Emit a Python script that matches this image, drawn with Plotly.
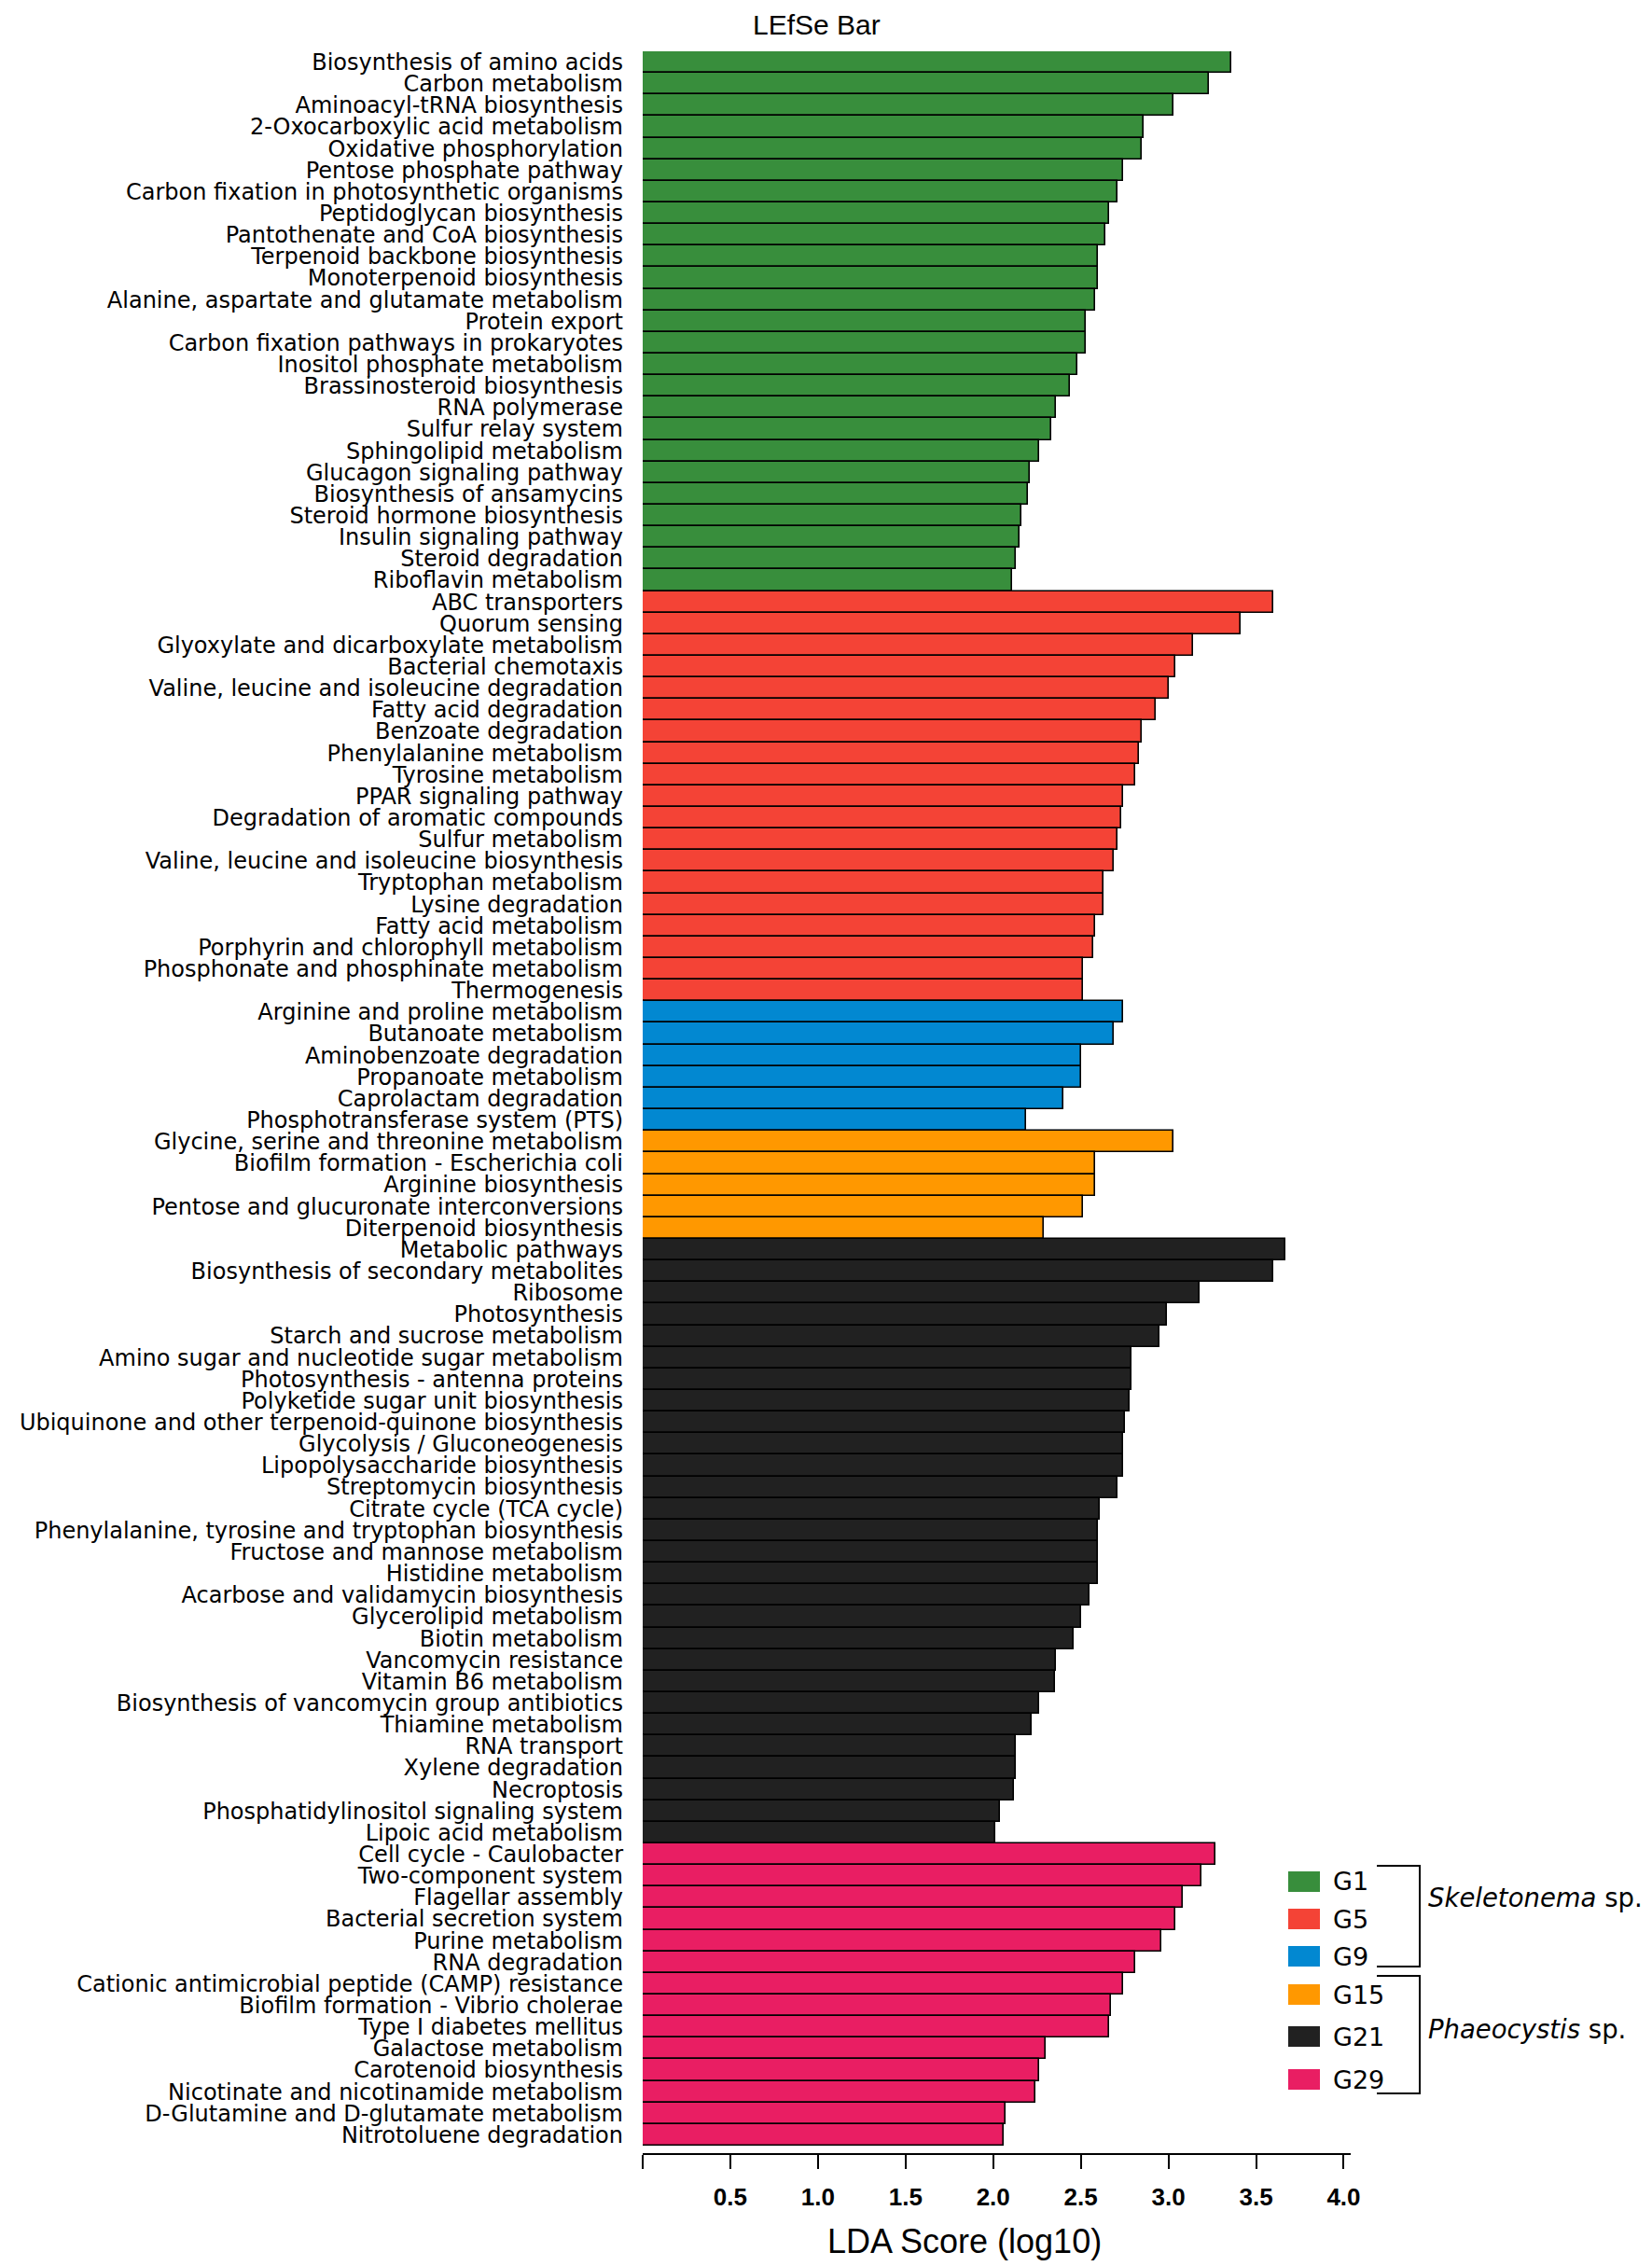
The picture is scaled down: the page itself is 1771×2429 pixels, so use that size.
import plotly.graph_objects as go

# pathways and LDA scores per group, top to bottom as in the figure
g1_pathways = [
    "Biosynthesis of amino acids", "Carbon metabolism", "Aminoacyl-tRNA biosynthesis",
    "2-Oxocarboxylic acid metabolism", "Oxidative phosphorylation", "Pentose phosphate pathway",
    "Carbon fixation in photosynthetic organisms", "Peptidoglycan biosynthesis",
    "Pantothenate and CoA biosynthesis", "Terpenoid backbone biosynthesis",
    "Monoterpenoid biosynthesis", "Alanine, aspartate and glutamate metabolism",
    "Protein export", "Carbon fixation pathways in prokaryotes", "Inositol phosphate metabolism",
    "Brassinosteroid biosynthesis", "RNA polymerase", "Sulfur relay system",
    "Sphingolipid metabolism", "Glucagon signaling pathway", "Biosynthesis of ansamycins",
    "Steroid hormone biosynthesis", "Insulin signaling pathway", "Steroid degradation",
    "Riboflavin metabolism",
]
g1_lda = [3.36, 3.23, 3.03, 2.86, 2.85, 2.74, 2.71, 2.66, 2.64, 2.60, 2.60, 2.58, 2.53,
          2.53, 2.48, 2.44, 2.36, 2.33, 2.26, 2.21, 2.20, 2.16, 2.15, 2.13, 2.11]

g5_pathways = [
    "ABC transporters", "Quorum sensing", "Glyoxylate and dicarboxylate metabolism",
    "Bacterial chemotaxis", "Valine, leucine and isoleucine degradation", "Fatty acid degradation",
    "Benzoate degradation", "Phenylalanine metabolism", "Tyrosine metabolism",
    "PPAR signaling pathway", "Degradation of aromatic compounds", "Sulfur metabolism",
    "Valine, leucine and isoleucine biosynthesis", "Tryptophan metabolism", "Lysine degradation",
    "Fatty acid metabolism", "Porphyrin and chlorophyll metabolism",
    "Phosphonate and phosphinate metabolism", "Thermogenesis",
]
g5_lda = [3.60, 3.41, 3.14, 3.04, 3.00, 2.93, 2.85, 2.83, 2.81, 2.74, 2.73, 2.71, 2.69,
          2.63, 2.63, 2.58, 2.57, 2.51, 2.51]

g9_pathways = [
    "Arginine and proline metabolism", "Butanoate metabolism", "Aminobenzoate degradation",
    "Propanoate metabolism", "Caprolactam degradation", "Phosphotransferase system (PTS)",
]
g9_lda = [2.74, 2.69, 2.50, 2.50, 2.40, 2.19]

g15_pathways = [
    "Glycine, serine and threonine metabolism", "Biofilm formation - Escherichia coli",
    "Arginine biosynthesis", "Pentose and glucuronate interconversions",
    "Diterpenoid biosynthesis",
]
g15_lda = [3.03, 2.58, 2.58, 2.51, 2.29]

g21_pathways = [
    "Metabolic pathways", "Biosynthesis of secondary metabolites", "Ribosome", "Photosynthesis",
    "Starch and sucrose metabolism", "Amino sugar and nucleotide sugar metabolism",
    "Photosynthesis - antenna proteins", "Polyketide sugar unit biosynthesis",
    "Ubiquinone and other terpenoid-quinone biosynthesis", "Glycolysis / Gluconeogenesis",
    "Lipopolysaccharide biosynthesis", "Streptomycin biosynthesis", "Citrate cycle (TCA cycle)",
    "Phenylalanine, tyrosine and tryptophan biosynthesis", "Fructose and mannose metabolism",
    "Histidine metabolism", "Acarbose and validamycin biosynthesis", "Glycerolipid metabolism",
    "Biotin metabolism", "Vancomycin resistance", "Vitamin B6 metabolism",
    "Biosynthesis of vancomycin group antibiotics", "Thiamine metabolism", "RNA transport",
    "Xylene degradation", "Necroptosis", "Phosphatidylinositol signaling system",
    "Lipoic acid metabolism",
]
g21_lda = [3.67, 3.60, 3.18, 2.99, 2.95, 2.79, 2.79, 2.78, 2.75, 2.74, 2.74, 2.71, 2.61,
           2.60, 2.60, 2.60, 2.55, 2.50, 2.46, 2.36, 2.35, 2.26, 2.22, 2.13, 2.13, 2.12,
           2.04, 2.01]

g29_pathways = [
    "Cell cycle - Caulobacter", "Two-component system", "Flagellar assembly",
    "Bacterial secretion system", "Purine metabolism", "RNA degradation",
    "Cationic antimicrobial peptide (CAMP) resistance", "Biofilm formation - Vibrio cholerae",
    "Type I diabetes mellitus", "Galactose metabolism", "Carotenoid biosynthesis",
    "Nicotinate and nicotinamide metabolism", "D-Glutamine and D-glutamate metabolism",
    "Nitrotoluene degradation",
]
g29_lda = [3.27, 3.19, 3.08, 3.04, 2.96, 2.81, 2.74, 2.67, 2.66, 2.30, 2.26, 2.24, 2.07, 2.06]

groups = ["G1", "G5", "G9", "G15", "G21", "G29"]
group_pathways = [g1_pathways, g5_pathways, g9_pathways, g15_pathways, g21_pathways, g29_pathways]
group_lda = [g1_lda, g5_lda, g9_lda, g15_lda, g21_lda, g29_lda]
group_colors = ["#388E3C", "#F44336", "#0288D1", "#FF9800", "#212121", "#E91E63"]

x_ticks = [0, 0.5, 1.0, 1.5, 2.0, 2.5, 3.0, 3.5, 4.0]
x_ticktext = ["", "0.5", "1.0", "1.5", "2.0", "2.5", "3.0", "3.5", "4.0"]

pathways, lda, bar_colors = [], [], []
for names, vals, col in zip(group_pathways, group_lda, group_colors):
    pathways += names
    lda += vals
    bar_colors += [col] * len(names)

# the page body has an 8px margin, so work in page pixels and shift back
OFF = 8
W, H = 1771 - OFF, 2429 - OFF
ML, MT = 689 - OFF, 55 - OFF
MR = W - (1448 - OFF)
MB = H - (2308 - OFF)
PW = W - ML - MR
PH = H - MT - MB


def px(xp):
    return (xp - OFF - ML) / PW


def py(yp):
    return (H - MB - (yp - OFF)) / PH


fig = go.Figure(go.Bar(
    x=lda, y=pathways, orientation="h", width=1.0,
    marker=dict(color=bar_colors, line=dict(color="black", width=1.6)),
    hoverinfo="x+y",
))

n = len(pathways)
fig.update_layout(
    width=W, height=H,
    margin=dict(l=ML, r=MR, t=MT, b=MB, pad=0),
    plot_bgcolor="white", paper_bgcolor="white",
    showlegend=False, bargap=0,
    font=dict(family="DejaVu Sans", color="black"),
)
fig.update_yaxes(
    type="category", categoryorder="array", categoryarray=pathways,
    tickmode="array", tickvals=pathways, ticktext=pathways,
    range=[n - 0.5 + 0.346, -0.5],
    showline=False, showgrid=False, zeroline=False, ticks="",
    tickfont=dict(family="DejaVu Sans", size=24, color="black"),
    ticklabelstandoff=20,
)
fig.update_xaxes(
    range=[0, 4.04], tickmode="array", tickvals=x_ticks, ticktext=x_ticktext,
    showline=True, linecolor="black", linewidth=2,
    ticks="outside", ticklen=15, tickwidth=2, tickcolor="black",
    showgrid=False, zeroline=False,
    tickfont=dict(family="Liberation Sans", size=26, color="black", weight="bold"),
    ticklabelstandoff=8,
)

annotations = [
    dict(text="LEfSe Bar", x=px(875), y=1 + MT / PH, yanchor="top",
         font=dict(family="Liberation Sans", size=30)),
    dict(text="LDA Score (log10)", x=px(1034), y=py(2402),
         font=dict(family="Liberation Sans", size=36)),
]
shapes = []

# legend boxes
legend_rows = [2017, 2057, 2097, 2138, 2183, 2229]
for g, col, yc in zip(groups, group_colors, legend_rows):
    shapes.append(dict(type="rect", xref="paper", yref="paper",
                       x0=px(1381), x1=px(1415), y0=py(yc - 11), y1=py(yc + 11),
                       fillcolor=col, line=dict(width=0)))
    annotations.append(dict(text=g, x=px(1427), y=py(yc), xanchor="left",
                            font=dict(size=27)))

# species brackets
for top, bot, label, ylab in [(2000, 2108, "<i>Skeletonema</i> sp.", 2034),
                              (2118, 2244, "<i>Phaeocystis</i> sp.", 2175)]:
    path = "M {a},{t} L {b},{t} L {b},{u} L {a},{u}".format(
        a=px(1476), b=px(1522), t=py(top), u=py(bot))
    shapes.append(dict(type="path", xref="paper", yref="paper", path=path,
                       line=dict(color="black", width=2)))
    annotations.append(dict(text=label, x=px(1529), y=py(ylab), xanchor="left",
                            font=dict(size=27.5)))

for a in annotations:
    a.setdefault("xanchor", "center")
    a.setdefault("yanchor", "middle")
    a.update(xref="paper", yref="paper", showarrow=False)

fig.update_layout(annotations=annotations, shapes=shapes)

fig.write_html("out.html")
